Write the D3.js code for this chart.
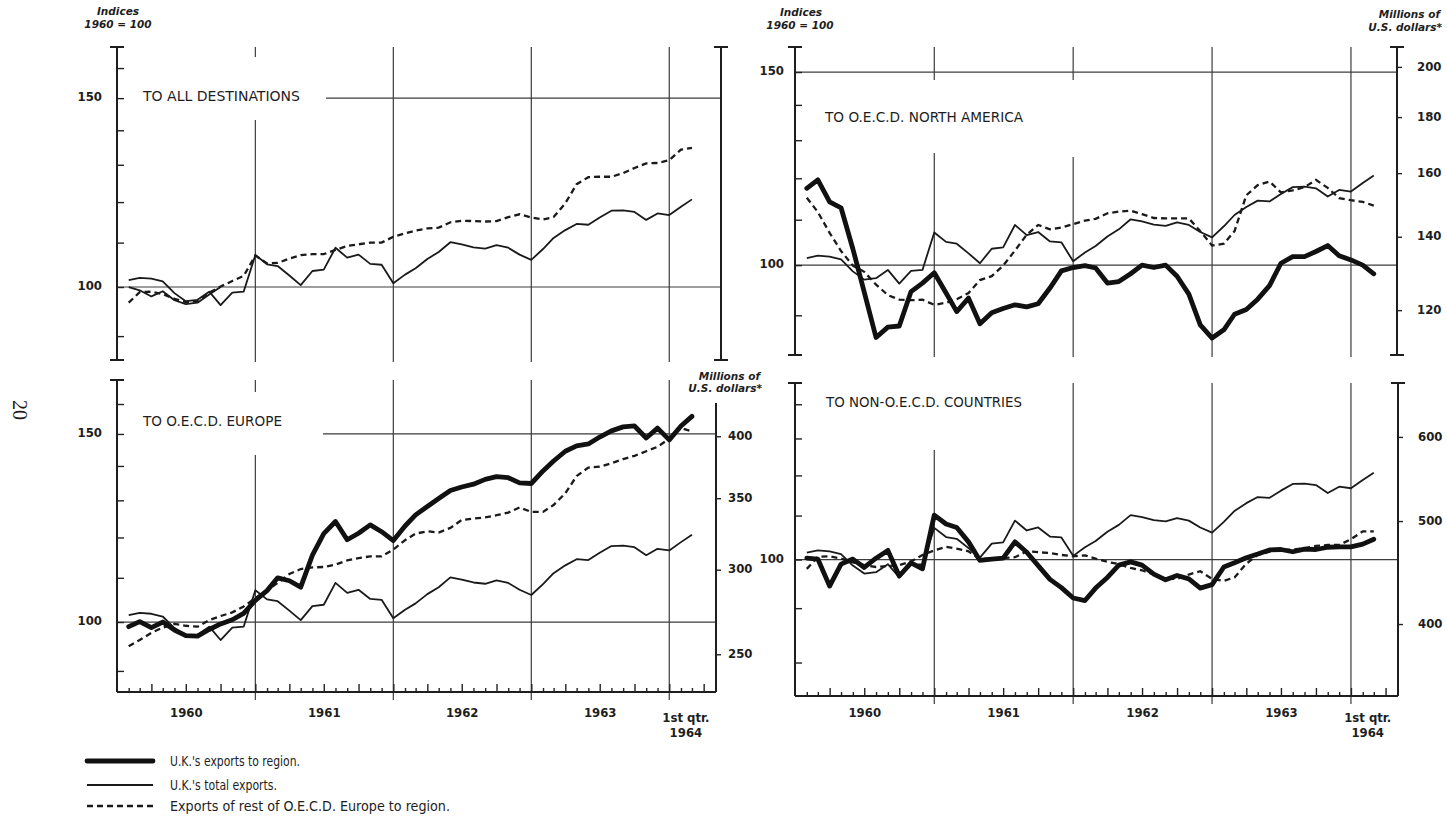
<!DOCTYPE html>
<html lang="en">
<head>
<meta charset="utf-8">
<title>U.K. exports by region, 1960 - 1st qtr. 1964</title>
<script src="https://cdn.jsdelivr.net/npm/d3@7/dist/d3.min.js"></script>
<style>
	html, body { margin: 0; padding: 0; background: #fff; }
	svg { display: block; background: #fff; }
	text {
		fill: #1e1e1e;
		font-family: "Liberation Sans Narrow", "DejaVu Sans Condensed", "DejaVu Sans", sans-serif;
		font-stretch: condensed;
	}
	.hdr {
		font-family: "DejaVu Sans", sans-serif;
		font-stretch: normal;
		font-style: italic;
		font-weight: bold;
		font-size: 10.5px;
	}
	.title, .legend-text { font-size: 14px; }
	.tick text, .year { font-size: 13px; font-weight: bold; }
	.page { font-family: "Liberation Serif", "DejaVu Serif", serif; font-stretch: normal; font-size: 20px; }
	.tick line { stroke: #222; stroke-width: 1.4; }
	.axis-line { stroke: #1e1e1e; stroke-width: 2; }
	.grid { stroke: #3c3c3c; stroke-width: 1.2; fill: none; }
	.uk { stroke: #111; stroke-width: 4.8; fill: none; stroke-linejoin: round; stroke-linecap: round; }
	.total { stroke: #1a1a1a; stroke-width: 1.8; fill: none; stroke-linejoin: round; }
	.rest { stroke: #1a1a1a; stroke-width: 2.3; fill: none; stroke-dasharray: 6 4; }
</style>
</head>
<body>
<div id="chart"></div>
<script>
const WIDTH = 1447;
const HEIGHT = 820;

// month-end observations: end of Jan 1960 ... end of Feb 1964
const months = d3.timeMonth.range(new Date(1960, 1, 1), new Date(1964, 2, 2));
const yearLabels = [1960, 1961, 1962, 1963];
const lastLabel = ['1st qtr.', '1964'];

// indices, 1960 = 100
const ukTotal = [101.5, 102.0, 101.8, 101.2, 98.7, 97.0, 97.3, 99.0, 96.2, 98.8,
	99.0, 107.1, 105.0, 104.6, 102.5, 100.4, 103.5, 103.8, 108.8, 106.5,
	107.2, 105.1, 104.9, 100.8, 102.7, 104.1, 106.2, 107.8, 110.1, 109.6,
	108.9, 108.6, 109.4, 108.8, 107.2, 106.0, 108.5, 111.1, 113.0, 114.5,
	114.3, 116.1, 117.8, 117.9, 117.5, 115.5, 117.1, 116.7, 118.8, 120.7];

const ukAllEarly = [100.0, 99.3, 98.0, 99.1, 97.2, 96.4, 96.7, 98.4, 100.0];

const restAll = [96.7, 98.9, 99.0, 98.5, 97.5, 96.8, 97.0, 98.8, 100.1, 101.3,
	102.4, 107.0, 105.2, 105.3, 106.3, 107.1, 107.3, 107.3, 108.3, 109.2,
	109.6, 110.0, 110.0, 111.4, 112.2, 112.9, 113.4, 113.6, 114.9, 115.3,
	115.2, 115.1, 115.2, 116.2, 116.9, 116.1, 115.6, 116.2, 119.7, 124.7,
	126.6, 126.7, 126.7, 127.7, 129.1, 130.4, 130.5, 131.3, 134.3, 134.8];

const ukNorthAmerica = [117.5, 119.6, 114.2, 112.8, 103.5, 94.5, 85.9, 87.8, 88.0, 94.6,
	96.3, 98.4, 94.3, 90.7, 93.3, 88.4, 90.5, 91.3, 92.0, 91.6,
	92.2, 95.3, 98.8, 99.5, 99.9, 99.4, 96.3, 96.6, 98.2, 100.0,
	99.5, 100.0, 97.7, 94.1, 88.2, 85.8, 87.3, 90.2, 91.1, 93.1,
	95.8, 100.4, 101.8, 101.8, 102.9, 104.2, 102.0, 101.1, 100.0, 98.2];

const restNorthAmerica = [115.2, 111.8, 107.0, 103.0, 99.9, 98.6, 96.0, 93.9, 93.0, 92.9,
	93.0, 92.0, 92.4, 93.1, 94.3, 96.9, 97.7, 99.9, 103.1, 106.6,
	108.8, 107.8, 108.2, 109.0, 109.8, 110.2, 111.5, 111.9, 112.1, 111.3,
	110.4, 110.3, 110.3, 110.3, 107.4, 104.2, 104.6, 107.4, 115.8, 118.3,
	119.2, 116.5, 117.0, 117.8, 119.6, 117.6, 115.1, 114.6, 114.2, 113.3];

const ukEurope = [99.0, 100.1, 98.8, 100.0, 98.3, 97.1, 97.0, 98.4, 99.6, 100.5,
	101.9, 104.8, 107.0, 110.0, 109.3, 107.8, 115.5, 121.0, 124.2, 119.4,
	121.1, 123.3, 121.5, 119.2, 123.0, 126.0, 128.3, 130.5, 132.8, 133.8,
	134.6, 136.0, 136.8, 136.5, 135.0, 134.8, 138.5, 141.5, 144.5, 146.2,
	146.8, 149.0, 151.0, 152.3, 152.6, 148.7, 151.9, 148.1, 152.6, 155.8];

const restEurope = [94.9, 96.2, 97.7, 98.8, 99.6, 99.2, 99.0, 100.4, 101.3, 102.1,
	103.4, 105.3, 107.1, 108.8, 110.9, 112.1, 112.5, 112.6, 113.2, 114.2,
	114.8, 115.2, 115.2, 116.9, 119.3, 121.0, 121.6, 121.3, 122.5, 124.6,
	125.0, 125.3, 125.9, 126.6, 128.0, 126.8, 126.8, 128.7, 132.0, 137.0,
	139.5, 139.8, 140.8, 142.1, 143.1, 144.5, 145.9, 148.5, 151.9, 150.8];

const ukNonOecd = [100.3, 100.1, 94.4, 99.0, 100.1, 98.3, 100.3, 102.0, 96.5, 99.3,
	98.0, 110.1, 108.0, 107.2, 103.9, 99.8, 100.1, 100.3, 103.9, 101.6,
	98.7, 95.8, 94.1, 92.0, 91.5, 94.0, 96.2, 98.8, 99.5, 98.8,
	96.9, 95.7, 96.6, 95.9, 94.0, 94.7, 98.4, 99.3, 100.4, 101.2,
	102.1, 102.2, 101.7, 102.3, 102.2, 102.7, 102.8, 102.8, 103.4, 104.5];

const restNonOecd = [98.0, 100.6, 100.7, 100.2, 99.4, 98.8, 98.4, 98.6, 98.8, 99.6,
	101.0, 102.0, 102.8, 102.4, 101.8, 100.1, 100.3, 100.3, 100.5, 101.8,
	101.6, 101.4, 101.0, 100.7, 100.9, 100.2, 99.5, 99.0, 98.2, 97.7,
	96.8, 95.9, 95.9, 96.8, 97.5, 95.9, 95.5, 96.2, 99.1, 101.0,
	101.7, 102.1, 102.2, 102.5, 103.0, 103.2, 103.2, 104.5, 106.3, 106.3];

// millions of U.S. dollars that correspond to index 100 (right-hand scales)
const dollarsNorthAmerica = 131.9;
const dollarsEurope = 268;
const dollarsNonOecd = 460;

const ticksTen = [90, 100, 110, 120, 130, 140, 150, 160];
const ticksNorthAmerica = [90, 100, 110, 120, 130, 140, 150];
const ticksNonOecd = [80, 90, 100, 110, 120, 130, 140];
const dollarTicksNorthAmerica = [120, 140, 160, 180, 200];
const dollarTicksEurope = [250, 300, 350, 400];
const dollarTicksNonOecd = [400, 500, 600];

const X_DOMAIN = [new Date(1960, 0, 1), new Date(1964, 4, 1)];
const YEAR_LINES = [1961, 1962, 1963, 1964];

const PANELS = [
	{
		title: 'TO ALL DESTINATIONS', titleX: 143, titleY: 101, titleW: 157,
		left: 117, right: 721, xEnd: 715, top: 47, bottom: 360,
		indexDomain: [85.5, 167.4], indexTicks: ticksTen, indexLabels: [100, 150], labelGap: 15,
		hGrid: [{ value: 150, from: 326 }, { value: 100 }],
		gaps: { 1961: [57, 120] },
		leftCaps: ['top', 'bottom'], rightCaps: ['top', 'bottom'],
		series: [
			{ values: ukTotal, cls: 'total' },
			{ values: ukAllEarly, cls: 'total' },
			{ values: restAll, cls: 'rest' }
		]
	},
	{
		title: 'TO O.E.C.D. NORTH AMERICA', titleX: 825, titleY: 122, titleW: 198,
		left: 795, right: 1397, xEnd: 1397, top: 47, bottom: 355,
		indexDomain: [82.8, 158.1], indexTicks: ticksNorthAmerica, indexLabels: [100, 150], labelGap: 11,
		dollars: dollarsNorthAmerica, dollarTicks: dollarTicksNorthAmerica, rightGap: 15,
		hGrid: [{ value: 150 }, { value: 100 }],
		gaps: { 1961: [80, 153], 1962: [80, 157] },
		leftCaps: ['top', 'bottom'], rightCaps: ['top', 'bottom'],
		series: [
			{ values: ukTotal, cls: 'total' },
			{ values: restNorthAmerica, cls: 'rest' },
			{ values: ukNorthAmerica, cls: 'uk' }
		]
	},
	{
		title: 'TO O.E.C.D. EUROPE', titleX: 143, titleY: 426, titleW: 139,
		left: 117, right: 716, xEnd: 715, top: 380, bottom: 692, rightTop: 403,
		indexDomain: [86.0, 168.5], indexTicks: ticksTen, indexLabels: [100, 150], labelGap: 15,
		dollars: dollarsEurope, dollarTicks: dollarTicksEurope, rightGap: 7,
		hGrid: [{ value: 150, from: 323 }, { value: 100 }],
		gaps: { 1961: [392, 455] },
		leftCaps: ['top'], rightCaps: [],
		xAxis: true,
		series: [
			{ values: ukTotal, cls: 'total' },
			{ values: restEurope, cls: 'rest' },
			{ values: ukEurope, cls: 'uk' }
		]
	},
	{
		title: 'TO NON-O.E.C.D. COUNTRIES', titleX: 826, titleY: 407, titleW: 196,
		left: 795, right: 1398, xEnd: 1397, top: 383, bottom: 696,
		indexDomain: [74.4, 146.6], indexTicks: ticksNonOecd, indexLabels: [100], labelGap: 11,
		dollars: dollarsNonOecd, dollarTicks: dollarTicksNonOecd, rightGap: 15,
		hGrid: [{ value: 100 }],
		gaps: { 1961: [383, 450] },
		leftCaps: ['top'], rightCaps: ['top'],
		xAxis: true,
		series: [
			{ values: ukTotal, cls: 'total' },
			{ values: restNonOecd, cls: 'rest' },
			{ values: ukNonOecd, cls: 'uk' }
		]
	}
];

const LEGEND = [
	{ cls: 'uk', label: 'U.K.\'s exports to region.', width: 130 },
	{ cls: 'total', label: 'U.K.\'s total exports.', width: 107 },
	{ cls: 'rest', label: 'Exports of rest of O.E.C.D. Europe to region.', width: 280 }
];

class RegionChart {

	/**
	 * @param {HTMLElement} element
	 */
	constructor(element) {
		this.element = element;
	}

	create() {
		this.svg = d3.select(this.element).append('svg')
			.attr('width', WIDTH)
			.attr('height', HEIGHT);

		this._drawHeaders();
		PANELS.forEach(p => this._drawPanel(p));
		this._drawLegend();
	}

	_drawHeaders() {
		const hdr = (x, y, txt, anchor) => this.svg.append('text')
			.attr('class', 'hdr')
			.attr('x', x)
			.attr('y', y)
			.attr('text-anchor', anchor)
			.text(txt);

		hdr(118, 15, 'Indices', 'middle');
		hdr(118, 28, '1960 = 100', 'middle');
		hdr(801, 16, 'Indices', 'middle');
		hdr(800, 29, '1960 = 100', 'middle');
		hdr(1440, 18, 'Millions of', 'end');
		hdr(1442, 31, 'U.S. dollars*', 'end');
		hdr(760, 380, 'Millions of', 'end');
		hdr(762, 392, 'U.S. dollars*', 'end');

		// page number in the margin
		this.svg.append('text')
			.attr('class', 'page')
			.attr('text-anchor', 'middle')
			.attr('transform', 'translate(13,410) rotate(90)')
			.text('20');
	}

	/**
	 * @param {Object} p
	 */
	_drawPanel(p) {
		const g = this.svg.append('g').attr('class', 'panel');
		const x = d3.scaleTime().domain(X_DOMAIN).range([p.left, p.xEnd]);
		const y = d3.scaleLog().domain(p.indexDomain).range([p.bottom, p.top]);

		this._drawGrid(g, p, x, y);
		this._drawAxes(g, p, x, y);
		this._drawSeries(g, p, x, y);

		g.append('text')
			.attr('class', 'title')
			.attr('x', p.titleX)
			.attr('y', p.titleY)
			.attr('textLength', p.titleW)
			.attr('lengthAdjust', 'spacingAndGlyphs')
			.text(p.title);
	}

	_drawGrid(g, p, x, y) {
		const grid = g.append('g').attr('class', 'grid');

		grid.selectAll('line.h')
			.data(p.hGrid)
			.join('line')
			.attr('class', 'grid h')
			.attr('x1', d => d.from || p.left)
			.attr('x2', p.right)
			.attr('y1', d => y(d.value))
			.attr('y2', d => y(d.value));

		// year boundaries, broken where the titles sit
		const low = p.bottom + (p.xAxis ? 8 : 2);
		const segs = [];
		YEAR_LINES.forEach(yr => {
			const gap = p.gaps[yr];
			if (gap) {
				if (gap[0] > p.top) segs.push({ yr, y1: p.top, y2: gap[0] });
				segs.push({ yr, y1: gap[1], y2: low });
			} else {
				segs.push({ yr, y1: p.top, y2: low });
			}
		});

		grid.selectAll('line.v')
			.data(segs)
			.join('line')
			.attr('class', 'grid v')
			.attr('x1', d => x(new Date(d.yr, 0, 1)))
			.attr('x2', d => x(new Date(d.yr, 0, 1)))
			.attr('y1', d => d.y1)
			.attr('y2', d => d.y2);
	}

	_drawAxes(g, p, x, y) {
		// index scale, ticks pointing into the plot
		g.append('g')
			.attr('transform', `translate(${p.left},0)`)
			.call(d3.axisLeft(y)
				.tickValues(p.indexTicks)
				.tickSizeInner(-7)
				.tickSizeOuter(0)
				.tickPadding(p.labelGap)
				.tickFormat(d => p.indexLabels.includes(d) ? d : ''))
			.call(a => a.select('.domain').remove())
			.call(a => a.selectAll('.tick text').attr('dy', '0.2em'));

		this._vLine(g, p.left, p.top, p.bottom, p.leftCaps);
		this._vLine(g, p.right, p.rightTop || p.top, p.bottom, p.rightCaps);

		if (p.dollars) {
			const yR = d3.scaleLog()
				.domain(p.indexDomain.map(v => v * p.dollars / 100))
				.range([p.bottom, p.top]);

			g.append('g')
				.attr('transform', `translate(${p.right},0)`)
				.call(d3.axisRight(yR)
					.tickValues(p.dollarTicks)
					.tickSizeInner(5)
					.tickSizeOuter(0)
					.tickPadding(p.rightGap)
					.tickFormat(d3.format('d')))
				.call(a => a.select('.domain').remove())
				.call(a => a.selectAll('.tick text').attr('dy', '0.25em'));
		}

		if (p.xAxis) this._drawTimeAxis(g, p, x);
	}

	_drawTimeAxis(g, p, x) {
		const all = d3.timeMonth.range(X_DOMAIN[0], X_DOMAIN[1]).slice(1);
		const quarters = all.filter(d => d.getMonth() % 3 === 0);
		const others = all.filter(d => d.getMonth() % 3 !== 0);

		[[others, -4], [quarters, -8]].forEach(([vals, size]) => {
			g.append('g')
				.attr('transform', `translate(0,${p.bottom})`)
				.call(d3.axisBottom(x).tickValues(vals).tickSizeInner(size).tickSizeOuter(0).tickFormat(''))
				.call(a => a.select('.domain').remove());
		});

		g.append('line')
			.attr('class', 'axis-line')
			.attr('x1', p.left)
			.attr('x2', p.right)
			.attr('y1', p.bottom)
			.attr('y2', p.bottom);

		g.append('g')
			.attr('transform', `translate(0,${p.bottom})`)
			.call(d3.axisBottom(x)
				.tickValues(yearLabels.map(yr => new Date(yr, 6, 1)))
				.tickSize(0)
				.tickPadding(718 - p.bottom - 10)
				.tickFormat(d3.timeFormat('%Y')))
			.call(a => a.select('.domain').remove())
			.call(a => a.selectAll('.tick text').attr('class', 'year'));

		g.append('text')
			.attr('class', 'year')
			.attr('text-anchor', 'middle')
			.selectAll('tspan')
			.data(lastLabel)
			.join('tspan')
			.attr('x', x(new Date(1964, 1, 14)))
			.attr('y', (d, i) => 722 + i * 15)
			.text(d => d);
	}

	/**
	 * Vertical axis line with optional cross caps.
	 */
	_vLine(g, xPos, y1, y2, caps) {
		g.append('line')
			.attr('class', 'axis-line')
			.attr('x1', xPos).attr('x2', xPos)
			.attr('y1', y1).attr('y2', y2);

		caps.forEach(c => {
			const yc = c === 'top' ? y1 : y2;
			g.append('line')
				.attr('class', 'axis-line')
				.attr('x1', xPos - 7).attr('x2', xPos + 7)
				.attr('y1', yc).attr('y2', yc);
		});
	}

	_drawSeries(g, p, x, y) {
		const line = d3.line()
			.defined(d => d != null)
			.x((d, i) => x(months[i]))
			.y(d => y(d));

		g.append('g')
			.selectAll('path')
			.data(p.series)
			.join('path')
			.attr('class', d => d.cls)
			.attr('d', d => line(d.values));
	}

	_drawLegend() {
		const rows = this.svg.append('g')
			.attr('class', 'legend')
			.selectAll('g')
			.data(LEGEND)
			.join('g')
			.attr('transform', (d, i) => `translate(0,${[761, 785, 806][i]})`);

		rows.append('line')
			.attr('class', d => d.cls)
			.attr('x1', 87)
			.attr('x2', 153);

		rows.append('text')
			.attr('class', 'legend-text')
			.attr('x', 170)
			.attr('y', 5)
			.attr('textLength', d => d.width)
			.attr('lengthAdjust', 'spacingAndGlyphs')
			.text(d => d.label);
	}
}

new RegionChart(document.getElementById('chart')).create();
</script>
</body>
</html>
